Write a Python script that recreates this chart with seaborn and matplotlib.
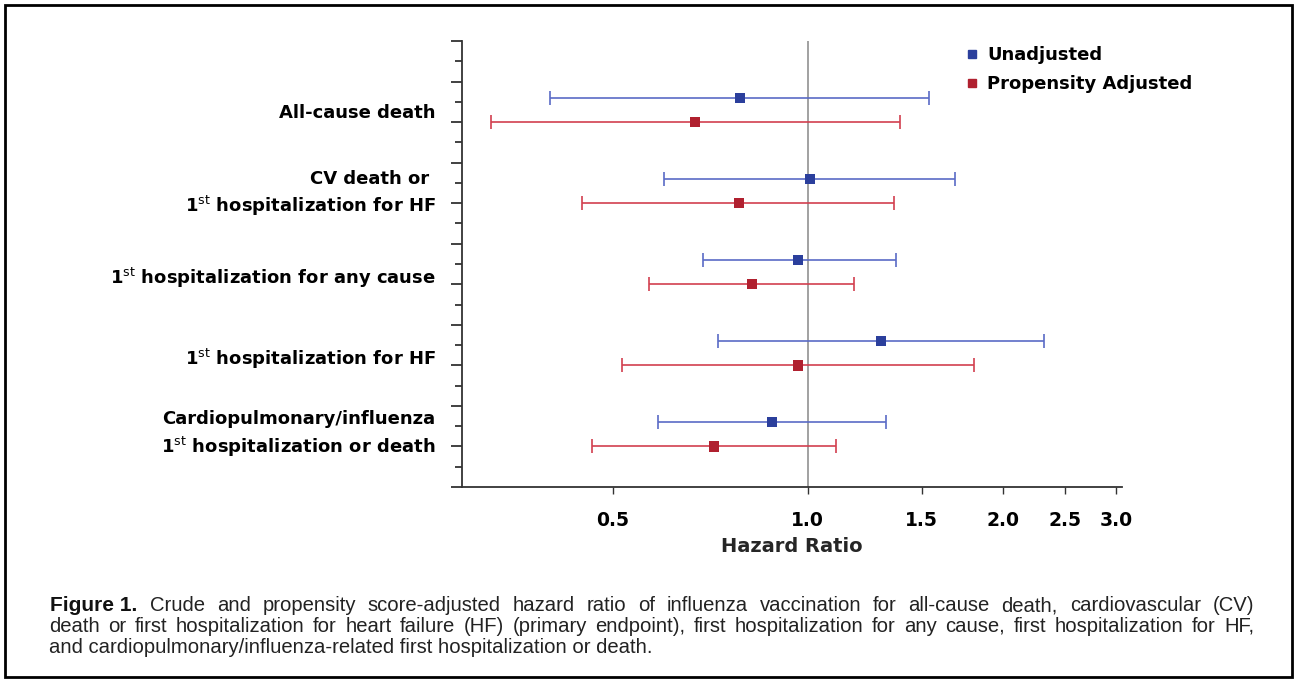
import numpy as np
import pandas as pd
import seaborn as sns
import matplotlib.pyplot as plt
from matplotlib.lines import Line2D
from matplotlib.patches import Rectangle

# =========================
# DATA
# =========================
outcomes = [
    "All-cause death",
    "CV death or \n1$^{\\rm st}$ hospitalization for HF",
    "1$^{\\rm st}$ hospitalization for any cause",
    "1$^{\\rm st}$ hospitalization for HF",
    "Cardiopulmonary/influenza\n1$^{\\rm st}$ hospitalization or death",
]
hr_unadj = [0.785, 1.007, 0.965, 1.297, 0.88]
lo_unadj = [0.40, 0.60, 0.688, 0.726, 0.586]
hi_unadj = [1.54, 1.69, 1.37, 2.32, 1.32]

hr_adj = [0.669, 0.782, 0.819, 0.965, 0.716]
lo_adj = [0.324, 0.447, 0.568, 0.516, 0.464]
hi_adj = [1.39, 1.36, 1.18, 1.81, 1.105]

x_ticks = [0.5, 1.0, 1.5, 2.0, 2.5, 3.0]
x_ticklabels = ["0.5", "1.0", "1.5", "2.0", "2.5", "3.0"]

caption_lines = [
    "Crude and propensity score-adjusted hazard ratio of influenza vaccination for all-cause death, cardiovascular (CV)",
    "death or first hospitalization for heart failure (HF) (primary endpoint), first hospitalization for any cause, first hospitalization for HF,",
    "and cardiopulmonary/influenza-related first hospitalization or death.",
]

BLUE_LINE, BLUE_MK = "#5a6bc6", "#2b3f9c"
RED_LINE, RED_MK = "#d2404f", "#b0202f"
W, H = 1297, 681

# =========================
# TABLE
# =========================
rows = len(outcomes)
df = pd.DataFrame({
    "row": list(range(rows)) * 2,
    "hr": hr_unadj + hr_adj,
    "lo": lo_unadj + lo_adj,
    "hi": hi_unadj + hi_adj,
    "model": ["Unadjusted"] * rows + ["Propensity Adjusted"] * rows,
})
# y position on a 0..22 tick grid (4 ticks per outcome)
df["y"] = 4 * (df["row"] + 1) - np.where(df["model"] == "Unadjusted", 1.2, 0.0)

sns.set_style("white")
plt.rcParams["font.family"] = ["DejaVu Sans"]
plt.rcParams["text.color"] = "black"
plt.rcParams["xtick.color"] = "black"

fig = plt.figure(figsize=(W / 100, H / 100), dpi=100)
ax = fig.add_axes([462 / W, 1 - 487 / H, 660 / W, 446 / H])

ax.set_xscale("log")
ax.set_xlim(0.292, 3.06)
ax.set_ylim(22, 0)

ax.axvline(1.0, color="#9a9a9a", lw=1.3, zorder=1)

colors = {"Unadjusted": (BLUE_LINE, BLUE_MK), "Propensity Adjusted": (RED_LINE, RED_MK)}
for model, sub in df.groupby("model"):
    lc, mc = colors[model]
    ax.errorbar(sub["hr"], sub["y"],
                xerr=[sub["hr"] - sub["lo"], sub["hi"] - sub["hr"]],
                fmt="none", ecolor=lc, elinewidth=1.2, capsize=5, capthick=1.2, zorder=2)

sns.scatterplot(data=df, x="hr", y="y", hue="model", marker="s", s=55,
                palette={"Unadjusted": BLUE_MK, "Propensity Adjusted": RED_MK},
                edgecolor="none", legend=False, ax=ax, zorder=3)

# axes styling
for side in ["top", "right"]:
    ax.spines[side].set_visible(False)
for side in ["left", "bottom"]:
    ax.spines[side].set_color("#333333")
    ax.spines[side].set_linewidth(1.3)

ax.set_yticks(np.arange(0, 23, 2))
ax.set_yticks(np.arange(1, 23, 2), minor=True)
ax.set_yticklabels([])
ax.tick_params(axis="y", which="major", length=8, width=1.3, color="#333333", left=True)
ax.tick_params(axis="y", which="minor", length=5, width=1.3, color="#333333", left=True)

ax.xaxis.set_minor_locator(plt.NullLocator())
ax.set_xticks(x_ticks)
ax.set_xticklabels(x_ticklabels, fontsize=13.5, fontweight="bold")
ax.tick_params(axis="x", which="major", length=5, width=1.0, color="#333333",
               bottom=True, pad=12)
ax.set_xlabel("Hazard Ratio", fontsize=14, fontweight="bold", labelpad=5)
ax.set_ylabel("")

# outcome labels
label_y = [3.55, 7.55, 11.7, 15.7, 19.4]
for lab, yy in zip(outcomes, label_y):
    ax.text(-0.04, yy, lab, transform=ax.get_yaxis_transform(), ha="right",
            va="center", fontsize=13, fontweight="bold", linespacing=1.35)

# legend
handles = [
    Line2D([], [], marker="s", ls="none", color=BLUE_MK, markersize=6),
    Line2D([], [], marker="s", ls="none", color=RED_MK, markersize=6),
]
leg = ax.legend(handles, ["Unadjusted", "Propensity Adjusted"], loc="upper left",
                bbox_to_anchor=(0.74, 1.025), frameon=False, handlelength=0.6,
                handletextpad=0.55, labelspacing=0.6,
                prop={"weight": "bold", "size": 13})

# caption
fig.text(50 / W, 1 - 611 / H, "Figure 1.", fontsize=15, fontweight="bold",
         family=["Liberation Sans Narrow", "DejaVu Sans Condensed", "Liberation Sans"],
         va="baseline", color="#111111")

cap_kw = dict(fontsize=14.6, family=["Liberation Sans"], va="baseline", color="#222222")
renderer = fig.canvas.get_renderer()


def justify(text, x0, x1, y):
    words = text.split(" ")
    ts = [fig.text(0, 1 - y / H, w, **cap_kw) for w in words]
    widths = [t.get_window_extent(renderer).width for t in ts]
    gap = (x1 - x0 - sum(widths)) / (len(words) - 1)
    x = x0
    for t, w in zip(ts, widths):
        t.set_x(x / W)
        x += w + gap


justify(caption_lines[0], 150, 1254, 611)
justify(caption_lines[1], 49, 1254, 632)
fig.text(49 / W, 1 - 653 / H, caption_lines[2], **cap_kw)

fig.patches.append(Rectangle((5 / W, 4 / H), 1287 / W, 672 / H,
                             transform=fig.transFigure, fill=False,
                             edgecolor="black", lw=2))

plt.savefig("out.png", dpi=100)
